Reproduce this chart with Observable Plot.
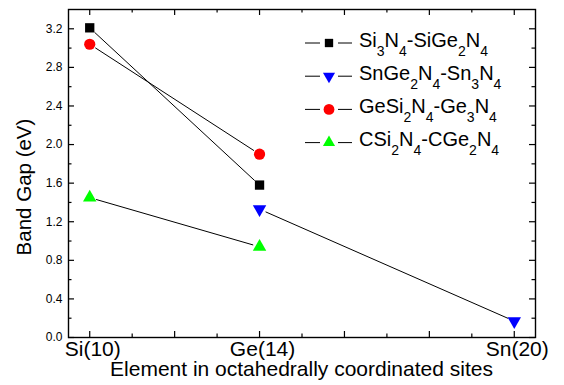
<!DOCTYPE html>
<html>
<head>
<meta charset="utf-8">
<script src="https://cdn.jsdelivr.net/npm/d3@7"></script>
<script src="https://cdn.jsdelivr.net/npm/@observablehq/plot@0.6"></script>
<style>
  body { margin: 0; background: #fff; }
  #chart svg { display: block; }
</style>
</head>
<body>
<div id="chart"></div>
<script>
// Element in the octahedral site (atomic number) and its axis label
const sites = [10, 14, 20];
const siteLabels = ["Si(10)", "Ge(14)", "Sn(20)"];

// Series names: "_n" marks a subscript digit
const seriesNames = ["Si_3N_4-SiGe_2N_4", "SnGe_2N_4-Sn_3N_4", "GeSi_2N_4-Ge_3N_4", "CSi_2N_4-CGe_2N_4"];
const seriesSymbols = ["square", "triangle-down", "circle", "triangle"];
const seriesColors = ["#000000", "#0000ff", "#ff0000", "#00ff00"];

// Band gaps (eV) at Si(10), Ge(14), Sn(20); null = not computed
const gapSiSiGe = [3.21, 1.58, null];
const gapSnGeSn = [null, 1.33, 0.17];
const gapGeSiGe = [3.04, 1.90, null];
const gapCSiCGe = [1.45, 0.94, null];

const yTickValues = [0, 0.4, 0.8, 1.2, 1.6, 2.0, 2.4, 2.8, 3.2];
const yMinorValues = [0.2, 0.6, 1.0, 1.4, 1.8, 2.2, 2.6, 3.0];
const xMajorValues = [10, 12, 14, 16, 18, 20];
const xMinorValues = [11, 13, 15, 17, 19];

const xTitle = "Element in octahedrally coordinated sites";
const yTitle = "Band Gap (eV)";

const seriesValues = [gapSiSiGe, gapSnGeSn, gapGeSiGe, gapCSiCGe];

// Long table of points and the segments joining neighbouring points
const points = [];
const segments = [];
seriesValues.forEach((vals, s) => {
  let prev = null;
  vals.forEach((v, i) => {
    if (v == null) { prev = null; return; }
    const p = {series: s, x: sites[i], y: v};
    points.push(p);
    if (prev) segments.push({x1: prev.x, y1: prev.y, x2: p.x, y2: p.y});
    prev = p;
  });
});

const W = 564, H = 385;
const mL = 68, mR = 29, mT = 9, mB = 48;
const frameW = W - mL - mR, frameH = H - mT - mB;
const font = "'Liberation Sans', Arial, Helvetica, sans-serif";

function dotMarkFor(s) {
  const sym = seriesSymbols[s];
  const base = sym === "triangle-down" ? "triangle" : sym;
  const r = sym === "square" ? 5.25 : sym === "circle" ? 5.6 : 5.0;
  return Plot.dot(points.filter(p => p.series === s), {
    x: "x", y: "y",
    symbol: base,
    rotate: sym === "triangle-down" ? 180 : 0,
    r,
    fill: seriesColors[s],
    stroke: "none"
  });
}

// Legend (line–marker–line sample and label with subscripts) and axis titles
function annotations() {
  const g = d3.create("svg:g")
    .attr("font-family", font)
    .attr("fill", "black");
  const leg = g.append("g").attr("font-size", 20).attr("text-anchor", "start");
  const sizes = {square: 4.7, circle: 5.4, triangle: 4.5, "triangle-down": 4.5};
  const subShift = 9;
  seriesNames.forEach((name, i) => {
    const cy = 43 + i * 33.2;
    leg.append("line").attr("x1", 305).attr("x2", 320).attr("y1", cy).attr("y2", cy)
      .attr("stroke", "black").attr("stroke-width", 1);
    leg.append("line").attr("x1", 338).attr("x2", 352).attr("y1", cy).attr("y2", cy)
      .attr("stroke", "black").attr("stroke-width", 1);
    const sym = seriesSymbols[i];
    const type = sym === "square" ? d3.symbolSquare : sym === "circle" ? d3.symbolCircle : d3.symbolTriangle;
    const r = sizes[sym];
    leg.append("path")
      .attr("d", d3.symbol(type, Math.PI * r * r)())
      .attr("transform", `translate(329,${cy})${sym === "triangle-down" ? " rotate(180)" : ""}`)
      .attr("fill", seriesColors[i]);
    const t = leg.append("text").attr("x", 359).attr("y", cy + 3.8);
    const parts = name.split(/(_\d)/).filter(Boolean);
    let lowered = false;
    parts.forEach(part => {
      if (part.startsWith("_")) {
        const sp = t.append("tspan").attr("font-size", 14).text(part.slice(1));
        if (!lowered) sp.attr("dy", subShift);
        lowered = true;
      } else {
        const sp = t.append("tspan").text(part);
        if (lowered) sp.attr("dy", -subShift);
        lowered = false;
      }
    });
  });
  g.append("text")
    .attr("x", mL + frameW / 2)
    .attr("y", 376)
    .attr("text-anchor", "middle")
    .attr("font-size", 21)
    .text(xTitle);
  g.append("text")
    .attr("transform", "translate(31,187) rotate(-90)")
    .attr("text-anchor", "middle")
    .attr("font-size", 20.5)
    .text(yTitle);
  return g.node();
}

const chart = Plot.plot({
  width: W,
  height: H,
  marginLeft: mL,
  marginRight: mR,
  marginTop: mT,
  marginBottom: mB,
  style: {fontFamily: font, color: "black", background: "white", overflow: "visible"},
  x: {domain: [9.5, 20.5]},
  y: {domain: [0, 3.4]},
  marks: [
    // inward ticks on all four sides
    Plot.ruleX(xMajorValues, {x: d => d, insetTop: frameH - 6, strokeWidth: 1.2}),
    Plot.ruleX(xMinorValues, {x: d => d, insetTop: frameH - 3.5, strokeWidth: 1.2}),
    Plot.ruleX(xMajorValues, {x: d => d, insetBottom: frameH - 6, strokeWidth: 1.2}),
    Plot.ruleX(xMinorValues, {x: d => d, insetBottom: frameH - 3.5, strokeWidth: 1.2}),
    Plot.ruleY(yTickValues, {y: d => d, insetRight: frameW - 6, strokeWidth: 1.2}),
    Plot.ruleY(yMinorValues, {y: d => d, insetRight: frameW - 3.5, strokeWidth: 1.2}),
    Plot.ruleY(yTickValues, {y: d => d, insetLeft: frameW - 6, strokeWidth: 1.2}),
    Plot.ruleY(yMinorValues, {y: d => d, insetLeft: frameW - 3.5, strokeWidth: 1.2}),
    Plot.frame({stroke: "black", strokeWidth: 1.4}),
    // connecting lines, stopping short of the markers
    Plot.arrow(segments, {
      x1: "x1", y1: "y1", x2: "x2", y2: "y2",
      stroke: "black", strokeWidth: 1, headLength: 0, inset: 7
    }),
    ...seriesNames.map((_, s) => dotMarkFor(s)),
    annotations,
    Plot.axisX(sites, {
      tickSize: 0, tickPadding: 4, fontSize: 21, dx: 3, label: null,
      tickFormat: d => siteLabels[sites.indexOf(d)]
    }),
    Plot.axisY(yTickValues, {
      tickSize: 0, tickPadding: 6, fontSize: 12, label: null,
      tickFormat: d3.format(".1f")
    })
  ]
});

document.getElementById("chart").appendChild(chart);
</script>
</body>
</html>
